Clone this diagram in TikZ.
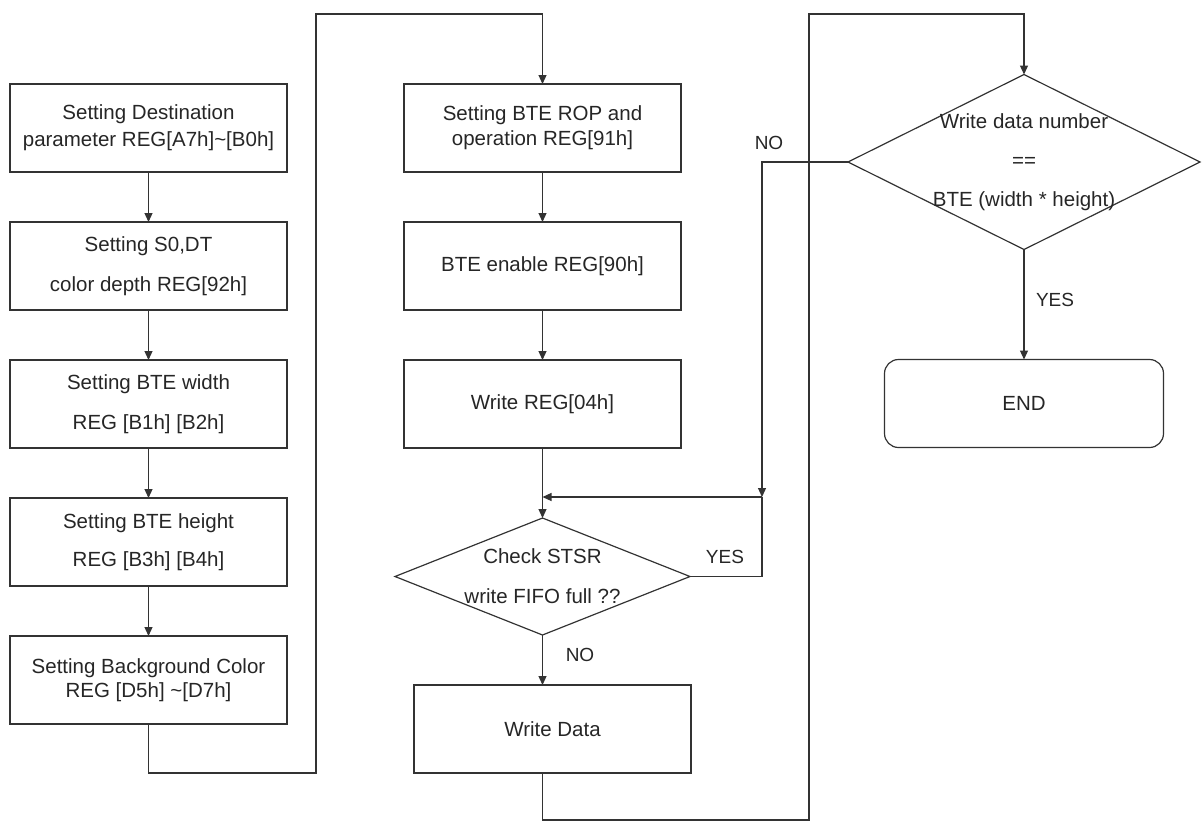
\documentclass[tikz,border=0pt]{standalone}
\usepackage{fontspec}
\setmainfont{Liberation Sans}
\usepackage{tikz}
\usetikzlibrary{
	shapes.geometric,
	arrows.meta,
	positioning,
	calc
}

\begin{document}
\begin{tikzpicture}[
    x=1pt, y=1pt,
    node distance=50pt and 117pt,
    block/.style={rectangle, draw=black!80, line width=1.2pt, align=center, minimum width=277pt, minimum height=88pt, inner sep=4pt, outer sep=0pt, text=black!85, font=\fontsize{20.5}{24}\selectfont},
    endblock/.style={block, rounded corners=14pt, minimum width=279pt},
    decision/.style={diamond, draw=black!80, line width=1.2pt, inner sep=0pt, outer sep=0pt},
    dtext/.style={align=center, text=black!85, font=\fontsize{20.5}{24}\selectfont},
    lbl/.style={text=black!85, font=\fontsize{19}{22}\selectfont},
    arrow/.style={-{Triangle[length=9pt, width=8pt]}, line width=1.2pt, draw=black!80},
    line/.style={line width=1.2pt, draw=black!80}
]
\useasboundingbox (0,0) rectangle (1202,-823);

\node[block] (dest) at (148.5,-128) {Setting Destination\\[3pt]parameter REG[A7h]\textasciitilde[B0h]};
\node[block, below=of dest] (depth) {Setting S0,DT\\[16pt]color depth REG[92h]};
\node[block, below=of depth] (bwidth) {Setting BTE width\\[16pt]REG [B1h] [B2h]};
\node[block, below=of bwidth] (bheight) {Setting BTE height\\[14pt]REG [B3h] [B4h]};
\node[block, below=of bheight] (bgcolor) {Setting Background Color\\REG [D5h] \textasciitilde[D7h]};

\node[block, right=of dest] (rop) {Setting BTE ROP and\\[1pt]operation REG[91h]};
\node[block, below=of rop] (enable) {BTE enable REG[90h]};
\node[block, below=of enable] (wreg) {Write REG[04h]};
\node[decision, below=70pt of wreg, minimum width=295pt, minimum height=117pt,
      label={[dtext]center:{Check STSR\\[16pt]write FIFO full ??}}] (check) {};
\node[block, below=50pt of check, xshift=10pt] (wdata) {Write Data};

\node[decision, right=167pt of rop, yshift=-34pt, minimum width=352pt, minimum height=175pt,
      label={[dtext]center:{Write data number\\[15pt]==\\[15pt]BTE (width * height)}}] (count) {};
\node[endblock, below=110pt of count] (finish) {END};

\node[lbl] (noloop) at (769,-143) {NO};
\node[lbl] (yesloop) at (725,-557) {YES};
\node[lbl] (nonext) at (580,-655) {NO};
\node[lbl] (yesend) at (1055,-300) {YES};

\coordinate (railA) at (316,-14);
\coordinate (railB) at (809,-14);
\coordinate (merge) at (762,-497);

\draw[arrow] (dest) -- (depth);
\draw[arrow] (depth) -- (bwidth);
\draw[arrow] (bwidth) -- (bheight);
\draw[arrow] (bheight) -- (bgcolor);
\draw[arrow] (bgcolor.south) -- ++(0,-49) -| (railA) -| (rop.north);
\draw[arrow] (rop) -- (enable);
\draw[arrow] (enable) -- (wreg);
\draw[arrow] (wreg) -- (check);
\draw[arrow] (check) -- (check |- wdata.north);
\draw[arrow] (check.south |- wdata.south) -- ++(0,-47) -| (railB) -| (count.north);
\draw[arrow] (count.west) -| (merge);
\draw[line] (check.east) -| (merge);
\draw[arrow] (merge) -- (merge -| check.north);
\draw[arrow] (count) -- (finish);
\end{tikzpicture}
\end{document}
